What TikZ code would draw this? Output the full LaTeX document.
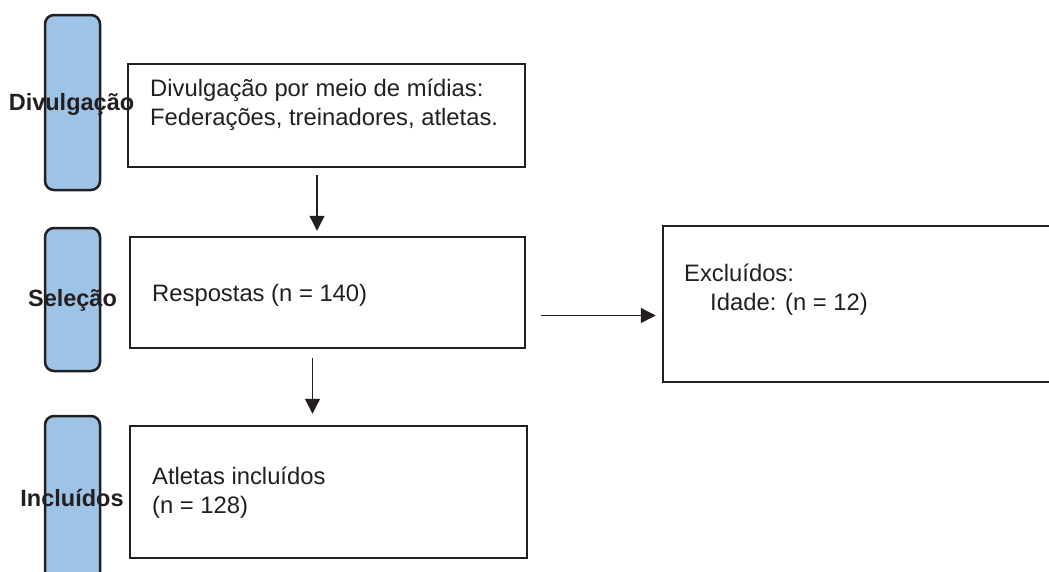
\documentclass[tikz,border=0pt]{standalone}
\usepackage{fontspec}
\setmainfont{Liberation Sans}
\usepackage{xcolor}
\usetikzlibrary{positioning}
\usetikzlibrary{arrows.meta}
\definecolor{barcolor}{RGB}{157, 195, 230}
\definecolor{inkcolor}{RGB}{35, 31, 32}
\tikzstyle{stage} = [
	line width=2.5pt,
	draw=inkcolor,
	fill=barcolor,
	rounded corners=9pt,
	minimum width=55pt,
	inner sep=0pt,
]
\tikzstyle{stagelabel} = [
	text=inkcolor,
	font=\fontsize{23.5}{28}\selectfont\bfseries,
	inner sep=0pt,
]
\tikzstyle{sbox} = [
	line width=2.5pt,
	draw=inkcolor,
	fill=white,
	inner sep=0pt,
]
\tikzstyle{stext} = [
	text=inkcolor,
	font=\fontsize{23.8}{29}\selectfont,
	align=left,
	inner sep=0pt,
	anchor=west,
]
\tikzstyle{flow} = [
	line width=1.3pt,
	draw=inkcolor,
	-{Triangle[length=15pt,width=15pt]}
]

\begin{document}
\begin{tikzpicture}[x=1pt, y=-1pt]
	\useasboundingbox (0,0) rectangle (1049,571);
	
	%
	% Stage bars
	\node[stage, minimum height=175pt] (bdiv) at (72.5,102.5) {};
	\node[stage, minimum height=143pt] (bsel) at (72.5,299.5) {};
	\node[stage, minimum height=180pt] (binc) at (72.5,506) {};
	
	%
	% Boxes
	\node[sbox, minimum width=397pt, minimum height=103pt] (fdiv) at (326.5,115.5) {};
	\node[sbox, minimum width=395pt, minimum height=111pt] (fsel) at (327.5,292.5) {};
	\node[sbox, minimum width=397pt, minimum height=132pt] (finc) at (328.5,492) {};
	\node[sbox, minimum width=400pt, minimum height=156pt] (fexc) at (863,304) {};
	
	%
	% Stage labels
	\node[stagelabel] (ldiv) at (71.5,104) {Divulgação};
	\node[stagelabel] (lsel) at (72.5,300) {Seleção};
	\node[stagelabel] (linc) at (72,498) {Incluídos};
	
	%
	% Box texts
	\node[stext] (tdiv) at (150,104.5) {Divulgação por meio de mídias:\\Federações, treinadores, atletas.};
	\node[stext] (tsel) at (152,295) {Respostas (n = 140)};
	\node[stext] (tinc) at (152,493) {Atletas incluídos\\(n = 128)};
	\node[stext] (texc) at (684,290) {Excluídos:\\\hspace*{26pt}Idade: (n = 12)};
	
	%
	% Arrows
	\draw[flow] ([xshift=-9.5pt, yshift=-7pt]fdiv.south) -- ([xshift=-10.5pt, yshift=5pt]fsel.north);
	\draw[flow] ([xshift=-15pt, yshift=-9pt]fsel.south) -- ([xshift=-16pt, yshift=11pt]finc.north);
	\draw[flow] ([xshift=15pt, yshift=-23pt]fsel.east) -- ([xshift=-6pt, yshift=-11.5pt]fexc.west);
	
\end{tikzpicture}
\end{document}
